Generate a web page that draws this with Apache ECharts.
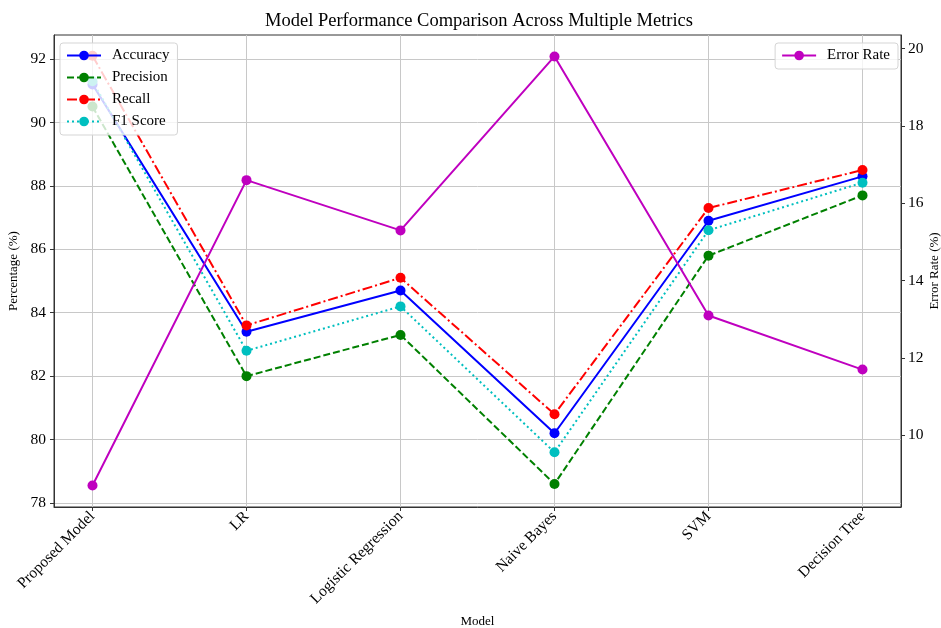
<!DOCTYPE html>
<html>
<head>
<meta charset="utf-8">
<script src="https://cdn.jsdelivr.net/npm/echarts@6/dist/echarts.min.js"></script>
<style>
  html, body { margin: 0; padding: 0; background: #fff; }
  #chart { width: 941px; height: 628px; }
</style>
</head>
<body>
<div id="chart"></div>
<script>
// Models compared along the x axis
const models = ['Proposed Model', 'LR', 'Logistic Regression', 'Naive Bayes', 'SVM', 'Decision Tree'];

// Metric values (%) per model
const accuracy  = [91.2, 83.4, 84.7, 80.2, 86.9, 88.3];
const precision = [90.5, 82.0, 83.3, 78.6, 85.8, 87.7];
const recall    = [92.1, 83.6, 85.1, 80.8, 87.3, 88.5];
const f1Score   = [91.3, 82.8, 84.2, 79.6, 86.6, 88.1];
const errorRate = [8.7, 16.6, 15.3, 19.8, 13.1, 11.7];

// Tick labels
const leftTicks  = [78, 80, 82, 84, 86, 88, 90, 92];
const rightTicks = [10, 12, 14, 16, 18, 20];

const FONT = '"Liberation Serif", "DejaVu Serif", serif';
const pairs = arr => arr.map((v, i) => [i, v]);

function metricSeries(name, data, color, dash, axisIndex) {
  return {
    name: name,
    type: 'line',
    yAxisIndex: axisIndex,
    data: pairs(data),
    symbol: 'circle',
    symbolSize: 10,
    showSymbol: true,
    lineStyle: { color: color, width: 2, type: dash },
    itemStyle: { color: color },
    emphasis: { disabled: true },
    animation: false
  };
}

const chart = echarts.init(document.getElementById('chart'), null, { renderer: 'canvas' });

chart.setOption({
  backgroundColor: '#ffffff',
  animation: false,
  textStyle: { fontFamily: FONT, color: '#000' },
  title: {
    text: 'Model Performance Comparison Across Multiple Metrics',
    left: 474, top: 7, textAlign: 'center',
    textStyle: { fontFamily: FONT, fontSize: 18.5, fontWeight: 'normal', color: '#000' }
  },
  grid: {
    left: 54, right: 40, top: 35, bottom: 121,
    outerBoundsMode: 'none',
    containLabel: false,
    show: true, borderColor: '#333', borderWidth: 1, backgroundColor: 'transparent'
  },
  legend: [
    {
      data: ['Accuracy', 'Precision', 'Recall', 'F1 Score'],
      orient: 'vertical',
      left: 60, top: 43,
      padding: [5, 8, 6, 6],
      itemGap: 7,
      itemWidth: 34, itemHeight: 12,
      backgroundColor: 'rgba(255,255,255,0.8)',
      borderColor: '#d5d5d5', borderWidth: 1, borderRadius: 3,
      textStyle: { fontFamily: FONT, fontSize: 15, color: '#000', padding: [0, 0, 0, 6] }
    },
    {
      data: ['Error Rate'],
      orient: 'vertical',
      right: 43, top: 43,
      padding: [5, 8, 6, 6],
      itemWidth: 34, itemHeight: 12,
      backgroundColor: 'rgba(255,255,255,0.8)',
      borderColor: '#d5d5d5', borderWidth: 1, borderRadius: 3,
      textStyle: { fontFamily: FONT, fontSize: 15, color: '#000', padding: [0, 0, 0, 6] }
    }
  ],
  xAxis: {
    type: 'value',
    min: -0.25, max: 5.25,
    name: 'Model',
    nameLocation: 'middle',
    nameGap: 108,
    nameTextStyle: { fontFamily: FONT, fontSize: 13, color: '#000' },
    axisLine: { show: true, onZero: false, lineStyle: { color: '#333', width: 1 } },
    axisTick: { show: true, length: 4, lineStyle: { color: '#333' }, customValues: [0, 1, 2, 3, 4, 5] },
    axisLabel: {
      customValues: [0, 1, 2, 3, 4, 5],
      rotate: 45, margin: 7,
      fontFamily: FONT, fontSize: 15.5, color: '#000',
      formatter: v => models[Math.round(v)]
    },
    splitLine: { show: true, lineStyle: { color: '#c8c8c8', width: 1 } }
  },
  yAxis: [
    {
      type: 'value',
      position: 'left',
      min: 77.874, max: 92.757,
      name: 'Percentage (%)',
      nameLocation: 'middle',
      nameRotate: 90,
      nameGap: 31,
      nameTextStyle: { fontFamily: FONT, fontSize: 13, color: '#000' },
      axisLine: { show: true, onZero: false, lineStyle: { color: '#333', width: 1 } },
      axisTick: { show: true, length: 4, lineStyle: { color: '#333' }, customValues: leftTicks },
      axisLabel: { customValues: leftTicks, fontFamily: FONT, fontSize: 15.5, color: '#000', margin: 8 },
      splitLine: { show: true, lineStyle: { color: '#c8c8c8', width: 1 } }
    },
    {
      type: 'value',
      position: 'right',
      min: 8.145, max: 20.355,
      name: 'Error Rate (%)',
      nameLocation: 'middle',
      nameRotate: 90,
      nameGap: 27,
      nameMoveOverlap: false,
      nameTextStyle: { fontFamily: FONT, fontSize: 13, color: '#000' },
      axisLine: { show: true, onZero: false, lineStyle: { color: '#333', width: 1 } },
      axisTick: { show: true, length: 4, lineStyle: { color: '#333' }, customValues: rightTicks },
      axisLabel: { customValues: rightTicks, fontFamily: FONT, fontSize: 15.5, color: '#000', margin: 7 },
      splitLine: { show: false }
    }
  ],
  series: [
    metricSeries('Accuracy',  accuracy,  '#0000ff', 'solid', 0),
    metricSeries('Precision', precision, '#008000', [7, 3], 0),
    metricSeries('Recall',    recall,    '#ff0000', [10, 3, 2, 3], 0),
    metricSeries('F1 Score',  f1Score,   '#00bfbf', [2, 3], 0),
    metricSeries('Error Rate', errorRate, '#bf00bf', 'solid', 1)
  ]
});
</script>
</body>
</html>
